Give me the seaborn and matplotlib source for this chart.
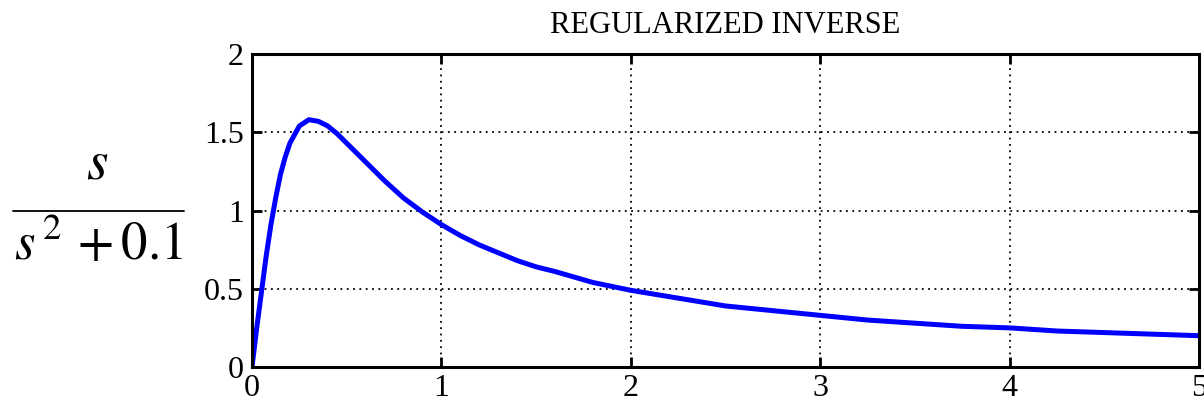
import numpy as np
import pandas as pd
import seaborn as sns
import matplotlib
matplotlib.use("Agg")
import matplotlib.pyplot as plt

# Values
x_vals = [0, 0.025, 0.05, 0.075, 0.1, 0.125, 0.15, 0.175, 0.2, 0.25, 0.3, 0.35, 0.4,
          0.45, 0.5, 0.6, 0.7, 0.8, 0.9, 1.0, 1.1, 1.2, 1.3, 1.4, 1.5, 1.6, 1.8, 2.0,
          2.25, 2.5, 2.75, 3.0, 3.25, 3.5, 3.75, 4.0, 4.25, 4.5, 4.75, 5.0]
y_vals = [0, 0.25, 0.48, 0.71, 0.91, 1.08, 1.23, 1.34, 1.43, 1.54, 1.58, 1.57, 1.54,
          1.49, 1.43, 1.31, 1.19, 1.08, 0.99, 0.91, 0.84, 0.78, 0.73, 0.68, 0.64, 0.61, 0.54, 0.49,
          0.44, 0.39, 0.36, 0.33, 0.30, 0.28, 0.26, 0.25, 0.23, 0.22, 0.21, 0.20]
x_ticks = [0, 1, 2, 3, 4, 5]
y_ticks = [0, 0.5, 1, 1.5, 2]
y_tick_labels = ["0", "0.5", "1", "1.5", "2"]
title = "REGULARIZED INVERSE"

sns.set_style("white")
plt.rcParams['font.family'] = ['Liberation Serif', 'DejaVu Serif']
plt.rcParams['mathtext.fontset'] = 'stix'
plt.rcParams['text.color'] = 'black'
plt.rcParams['xtick.color'] = 'black'
plt.rcParams['ytick.color'] = 'black'

fig = plt.figure(figsize=(12.04, 4.04), dpi=100)
ax = fig.add_axes([252/1204, 37/404, (1199-252)/1204, (367-54)/404])

df = pd.DataFrame({"x": x_vals, "y": y_vals})
sns.lineplot(data=df, x="x", y="y", ax=ax, color=(0, 0, 1), linewidth=3.6)

ax.set_xlim(0, 5)
ax.set_ylim(0, 2)
ax.set_xticks(x_ticks)
ax.set_xticklabels([str(t) for t in x_ticks])
ax.set_yticks(y_ticks)
ax.set_yticklabels(y_tick_labels)
ax.set_xlabel("")
ax.set_ylabel("")
ax.grid(True, color="black", linestyle=(0, (1, 2.5)), linewidth=1.3)
for s in ax.spines.values():
    s.set_visible(True)
    s.set_color("black")
    s.set_linewidth(2.2)
ax.tick_params(direction="in", length=7, width=2, labelsize=23,
               top=True, right=True, bottom=True, left=True,
               colors="black")
ax.tick_params(axis="x", pad=5)
ax.tick_params(axis="y", pad=6)
ax.set_title(title, fontsize=22, pad=15, color="black")

# Fraction label on the left
fig.text(97/1204, 1 - 165/404, r"$s$", fontsize=40, ha="center", va="center")
fig.add_artist(plt.Line2D([13/1204, 184/1204], [1 - 211/404, 1 - 211/404],
                          color="black", linewidth=1.3, transform=fig.transFigure))
fig.text(99/1204, 1 - 245/404, r"$s^{\,2}\, + 0.1$", fontsize=38, ha="center", va="center")

fig.savefig("out.png", dpi=100)
